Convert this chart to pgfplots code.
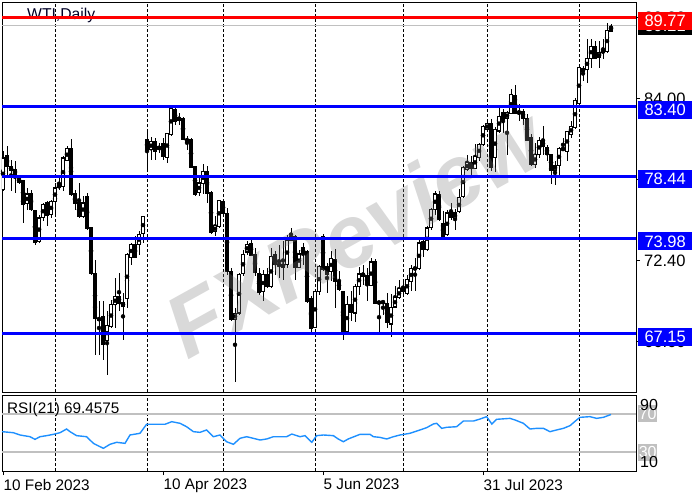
\documentclass[border=0pt]{standalone}
\usepackage{pgfplots}
\pgfplotsset{compat=1.18}
\usepackage{pgfplotstable}
\usepackage{fontspec}
\setmainfont{Liberation Sans}
\definecolor{rsiblue}{RGB}{30,144,255}
\definecolor{lvlgray}{RGB}{192,192,192}
\definecolor{lvlblue}{RGB}{0,0,255}

\pgfplotstableread{
x o h l c
0 77.47 80.22 77.35 79.74
1 79.91 80.58 78.31 79.15
2 79.15 79.62 77.35 78.84
3 78.91 79.55 77.23 78.55
4 78.31 78.55 77.88 77.95
5 78.12 78.19 75.08 76.40
6 76.45 77.59 76.04 77.16
7 77.16 77.47 75.92 76.04
8 75.97 76.04 73.53 73.65
9 73.77 75.68 73.65 75.44
10 75.44 76.52 75.20 76.40
11 76.52 76.64 74.85 75.63
12 75.68 76.76 75.44 76.64
13 76.64 77.95 75.68 77.59
14 77.59 78.31 77.47 77.83
15 77.71 79.86 77.35 79.74
16 79.55 80.58 79.50 80.39
17 80.41 81.06 76.99 77.12
18 77.16 77.47 76.04 76.45
19 76.52 77.95 75.44 75.56
20 75.56 76.99 75.44 76.52
21 76.99 77.23 74.61 74.65
22 74.73 74.77 71.38 71.43
23 71.50 72.46 65.65 68.27
24 68.13 69.47 65.65 68.27
25 68.39 69.47 65.29 66.36
26 66.67 68.75 64.21 67.72
27 67.68 69.59 67.56 69.23
28 69.23 71.14 67.56 69.80
29 69.83 71.50 68.75 69.35
30 69.40 70.07 66.72 69.11
31 69.66 72.93 68.99 72.81
32 72.62 73.65 72.10 73.53
33 73.53 74.13 72.57 72.62
34 73.53 74.53 72.81 74.25
35 74.30 75.61 73.65 75.56
36 81.06 81.66 78.79 80.27
37 80.34 81.23 79.62 80.89
38 80.89 81.18 79.62 80.22
39 80.46 80.82 80.10 80.44
40 80.75 81.18 79.62 79.86
41 79.79 81.54 79.39 81.46
42 81.42 83.33 81.30 83.28
43 83.21 83.33 82.13 82.37
44 82.42 82.97 82.09 82.66
45 82.56 82.66 80.99 81.06
46 81.06 81.30 80.34 80.94
47 81.06 81.18 78.98 79.03
48 79.15 79.19 76.99 77.12
49 77.23 78.55 76.99 77.95
50 77.88 79.27 77.12 78.74
51 78.74 79.15 76.52 77.16
52 77.23 77.35 74.30 74.37
53 74.44 75.56 74.13 74.89
54 74.85 76.76 74.73 76.69
55 76.64 76.76 75.68 75.73
56 75.73 76.16 71.38 71.62
57 71.62 71.86 68.03 68.15
58 68.15 68.99 63.73 68.63
59 68.63 71.50 68.51 71.38
60 71.43 73.17 71.26 72.81
61 73.00 73.77 72.81 73.53
62 73.60 73.89 72.69 72.77
63 72.81 73.29 71.26 71.50
64 71.45 71.86 69.95 70.07
65 70.19 71.74 69.47 71.38
66 71.38 71.86 70.43 70.54
67 70.54 73.29 70.43 72.69
68 72.81 73.05 71.38 72.10
69 72.10 73.53 71.14 72.05
70 71.91 73.77 71.02 72.14
71 72.10 74.25 71.86 73.82
72 73.82 74.73 73.77 74.13
73 74.13 74.25 71.02 71.86
74 71.91 73.17 71.86 72.86
75 73.34 73.65 72.10 72.86
76 73.05 73.17 69.35 69.47
77 69.71 69.83 67.20 67.56
78 67.60 70.31 67.56 70.19
79 70.14 72.10 69.95 71.98
80 74.13 74.30 71.62 71.74
81 71.98 72.22 70.07 71.38
82 71.62 73.05 70.91 72.53
83 72.46 73.24 68.99 70.91
84 70.91 71.67 70.19 70.31
85 70.19 70.23 66.72 67.20
86 67.27 69.83 67.20 69.28
87 69.28 70.19 68.03 68.70
88 68.63 70.71 67.99 70.54
89 70.54 71.91 69.95 71.43
90 71.50 72.10 70.66 71.26
91 71.31 71.86 69.52 70.66
92 70.62 72.57 70.54 72.29
93 72.29 72.53 69.28 69.35
94 69.35 69.47 67.20 69.42
95 69.42 69.52 68.51 69.40
96 69.35 70.07 67.56 67.92
97 67.84 70.00 66.89 69.06
98 69.06 70.54 68.99 69.76
99 69.71 71.02 69.66 70.38
100 70.19 70.91 69.99 70.47
101 70.02 71.38 69.95 71.07
102 70.91 72.10 70.19 71.81
103 71.74 72.57 70.19 71.91
104 71.81 73.96 71.74 73.65
105 73.77 74.01 72.65 73.17
106 73.17 74.85 73.05 74.73
107 74.73 76.16 74.61 76.04
108 76.04 77.35 75.68 77.16
109 77.12 77.35 75.25 75.32
110 75.01 75.92 73.84 74.13
111 74.25 76.04 74.13 75.80
112 75.87 76.52 75.32 75.44
113 75.39 76.11 74.61 75.80
114 75.87 77.52 75.80 76.88
115 76.99 79.15 76.88 79.03
116 78.91 79.98 78.79 79.39
117 79.39 79.86 78.31 78.98
118 78.98 80.70 78.91 79.86
119 79.79 80.82 79.51 80.70
120 80.70 82.13 80.58 82.01
121 81.78 82.37 81.66 82.18
122 82.18 82.49 78.79 79.03
123 79.74 81.94 78.74 81.78
124 81.66 83.33 81.54 82.73
125 82.97 83.21 81.54 82.49
126 82.56 83.09 79.98 82.97
127 82.90 84.64 82.85 84.28
128 84.24 84.95 82.85 82.90
129 82.90 83.57 82.37 83.09
130 83.09 83.21 82.13 82.56
131 82.56 82.85 80.94 80.99
132 81.23 81.42 79.15 79.27
133 79.27 80.82 78.98 79.98
134 79.98 81.23 79.74 80.99
135 80.99 82.01 79.98 80.53
136 80.51 80.63 79.51 79.98
137 79.98 80.03 77.88 78.84
138 78.84 79.51 77.83 79.22
139 79.22 80.51 78.55 80.41
140 80.34 81.13 80.22 80.41
141 80.22 81.70 79.51 81.61
142 81.42 82.37 81.18 82.01
143 81.89 84.05 81.78 83.85
144 83.62 86.32 83.57 86.20
145 85.91 86.32 85.24 86.15
146 86.08 88.23 85.12 86.86
147 86.86 88.23 86.20 87.75
148 87.75 88.11 86.79 86.84
149 86.91 88.11 86.20 87.27
150 87.27 88.23 86.79 87.44
151 87.34 89.42 87.27 88.87
152 88.82 89.35 88.78 89.18
}\candles

\newcommand{\lblfont}{\fontsize{16.5}{18}\selectfont}
\newcommand{\datefont}{\fontsize{15.3}{17}\selectfont}

\begin{document}
\begin{tikzpicture}[x=1pt,y=1pt]
\path[use as bounding box] (0,0) rectangle (700,500);
% ---------- main price panel ----------
\begin{axis}[
  at={(2pt,108pt)}, anchor=south west,
  scale only axis, width=634pt, height=390pt,
  xmin=-0.25, xmax=158.25, ymin=62.98, ymax=90.90,
  clip mode=individual,
  axis line style={line width=0.8pt},
  xtick={13,36,55,78,100,121,144}, xticklabels={},
  xtick style={draw=none},
  xmajorgrids,
  grid style={black, line width=0.7pt, dash pattern=on 3pt off 2pt},
  ytick={66.60,72.40,78.20,84.00,89.80},
  yticklabels={66.60,72.40,78.20,84.00,89.80},
  ytick pos=right, yticklabel pos=right,
  tick align=outside, major tick length=4pt,
  ytick style={black, line width=0.7pt},
  yticklabel style={font=\lblfont, anchor=west, inner sep=0pt, xshift=4pt},
]
\addplot[lvlgray, line width=0.8pt] coordinates {(-0.25,89.21) (158.25,89.21)};
% wicks
\addplot[only marks, mark=none,
  error bars/.cd, y dir=both, y explicit, error mark=none,
  error bar style={black, line width=0.8pt}]
  table[x=x, y expr={(\thisrow{h}+\thisrow{l})/2},
        y error expr={(\thisrow{h}-\thisrow{l})/2}] {\candles};
% bodies (outline / filled)
\addplot[only marks, mark=none,
  error bars/.cd, y dir=both, y explicit, error mark=none,
  error bar style={black, line width=3.2pt}]
  table[x=x, y expr={(\thisrow{o}+\thisrow{c})/2},
        y error expr={abs(\thisrow{c}-\thisrow{o})/2+0.035}] {\candles};
% hollow interior of rising candles
\addplot[only marks, mark=none,
  error bars/.cd, y dir=both, y explicit, error mark=none,
  error bar style={white, line width=1.5pt}]
  table[x=x, y expr={(\thisrow{o}+\thisrow{c})/2},
        y error expr={(\thisrow{c}>\thisrow{o})*max(abs(\thisrow{c}-\thisrow{o})/2-0.045,0)}] {\candles};
% watermark
\node[rotate=29, font=\fontsize{88}{90}\selectfont\bfseries\itshape, text=gray, opacity=0.3, inner sep=0pt]
  at (rel axis cs:0.555,0.41) {FXReview};
\node[anchor=north west, inner sep=0pt, font=\fontsize{15.7}{17}\selectfont, text=black!85!blue]
  at (rel axis cs:0,1) [xshift=25pt, yshift=-6pt] {WTI,Daily};
\addplot[lvlblue, line width=3pt] coordinates {(-0.25,83.40) (158.25,83.40)};
\addplot[lvlblue, line width=3pt] coordinates {(-0.25,78.44) (158.25,78.44)};
\addplot[lvlblue, line width=3pt] coordinates {(-0.25,73.98) (158.25,73.98)};
\addplot[lvlblue, line width=3pt] coordinates {(-0.25,67.15) (158.25,67.15)};
\addplot[red, line width=3pt] coordinates {(-0.25,89.77) (158.25,89.77)};
% right-hand price boxes
\tikzset{pbox/.style={anchor=west, inner sep=0pt, minimum width=54pt, minimum height=18pt,
  text=white, font=\lblfont, xshift=2pt}}
\node[pbox, fill=black] at (axis cs:158.25,89.21) {89.21};
\node[pbox, fill=red, yshift=-3pt] at (axis cs:158.25,89.77) {89.77};
\node[pbox, fill=lvlblue, yshift=-3pt] at (axis cs:158.25,83.40) {83.40};
\node[pbox, fill=lvlblue, yshift=-3pt] at (axis cs:158.25,78.44) {78.44};
\node[pbox, fill=lvlblue, yshift=-3pt] at (axis cs:158.25,73.98) {73.98};
\node[pbox, fill=lvlblue, yshift=-3pt] at (axis cs:158.25,67.15) {67.15};
\end{axis}
% ---------- RSI panel ----------
\begin{axis}[
  at={(2pt,29pt)}, anchor=south west,
  scale only axis, width=634pt, height=76pt,
  xmin=-0.25, xmax=158.25, ymin=10, ymax=90,
  clip mode=individual,
  axis line style={line width=0.8pt},
  ytick=\empty,
  xtick={0,40,80,120},
  xticklabels={10 Feb 2023,10 Apr 2023,5 Jun 2023,31 Jul 2023},
  xtick pos=bottom,
  tick align=outside, major tick length=4pt,
  xtick style={black, line width=0.7pt},
  xticklabel style={font=\datefont, anchor=north west, inner sep=0pt, yshift=-4pt, xshift=0.5pt},
  extra x ticks={13,36,55,78,100,121,144},
  extra x tick labels={},
  extra x tick style={grid=major, major tick length=0pt},
  grid style={black, line width=0.7pt, dash pattern=on 3pt off 2pt},
]
\addplot[lvlgray, line width=2.5pt] coordinates {(-0.25,70) (158.25,70)};
\addplot[lvlgray, line width=2.5pt] coordinates {(-0.25,30) (158.25,30)};
\addplot[rsiblue, line width=1.4pt] coordinates {
(-0.25,51.4) (2.6,50.3) (4.25,47.9) (6.75,46.1) (8,43.3) (9.25,46.1) (10.9,47.2)
(12.6,48.6) (14.25,50.3) (15.9,54.2) (16.75,51.4) (18.4,47.2) (20.9,46.1) (22.6,39.1)
(24.25,35.6) (25.1,33.9) (26.75,38.1) (28.4,40.2) (30.5,39.1) (31.75,47.9) (34.25,49.7)
(35.9,59.2) (38.4,59.2) (40.5,59.2) (42.2,61.9) (44.25,60.2) (45.9,56.6) (47.6,51.4)
(49.25,50.7) (50.9,53.2) (52.6,46.1) (54.25,47.9) (55.9,40.8) (57.6,38.1) (59.25,44.4)
(60.9,46.1) (62.6,44.4) (64.25,42.6) (65.9,43.7) (67.6,46.1) (70.9,46.1) (72.2,48.9)
(74.25,46.1) (75.5,47.2) (77.2,40.2) (78.4,47.2) (80.1,47.9) (82.6,47.2) (83.8,43.7)
(85.1,40.8) (86.3,43.7) (89.25,48.6) (91.75,48.6) (92.6,46.1) (94.25,45.4) (95.9,43.7)
(97.6,46.1) (99.25,47.9) (101.75,49.7) (104.25,53.2) (105.9,55.6) (107.6,59.5) (108.4,60.2)
(109.7,54.9) (110.9,56.0) (113.4,56.6) (115.1,62.6) (117.6,62.6) (119.25,64.7) (120.9,67.2)
(122.2,59.5) (123.4,64.4) (126.75,65.4) (128,63.7) (130.1,60.2) (131.75,54.2) (133.4,54.9)
(135.1,54.9) (136.75,51.4) (138.4,53.2) (140.1,54.9) (141.75,57.7) (143.4,63.7) (144.25,66.5)
(146.75,67.2) (148.4,65.4) (150.1,66.5) (152,69.5)};
\node[anchor=base west, inner sep=0pt, font=\datefont] at (axis cs:1,70) {RSI(21) 69.4575};
\tikzset{rbox/.style={anchor=west, inner sep=0pt, minimum width=19pt, minimum height=17pt,
  fill=lvlgray, text=white, font=\fontsize{16}{18}\selectfont, xshift=2pt}}
\node[rbox] at (axis cs:158.25,70) {70};
\node[rbox] at (axis cs:158.25,30) {30};
\node[anchor=north west, inner sep=0pt, font=\fontsize{16}{18}\selectfont] at (rel axis cs:1,1) [xshift=4pt, yshift=-4pt] {90};
\node[anchor=base west, inner sep=0pt, font=\fontsize{16}{18}\selectfont] at (rel axis cs:1,0) [xshift=4pt, yshift=4pt] {10};
\end{axis}
\end{tikzpicture}
\end{document}
